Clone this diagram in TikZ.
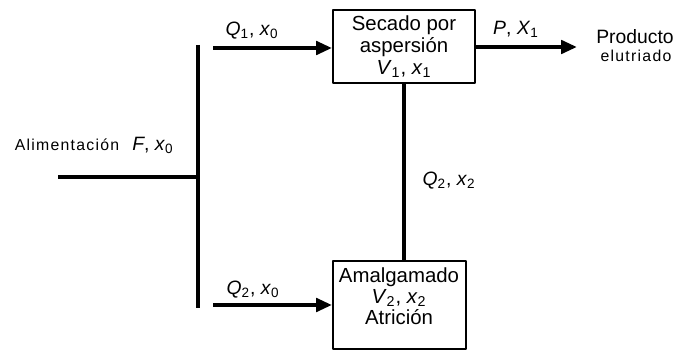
\documentclass[tikz,border=0pt]{standalone}
\usepackage{fontspec}
\setmainfont{Liberation Sans}
\usetikzlibrary{arrows.meta}
\newcommand{\vsub}[2]{\textit{#1}\textsubscript{#2}}

\begin{document}
\begin{tikzpicture}[x=0.02cm, y=-0.02cm, font=\fontsize{11}{12.5}\selectfont, line join=round, >={Triangle[length=9pt, width=7.5pt]},
		box/.style={draw, line width=1.1pt, align=center, inner sep=0pt, font=\fontsize{11.6}{12.5}\selectfont},
		flow/.style={line width=2.3pt},
		thin flow/.style={line width=2pt},
		spaced/.style={font=\fontsize{9}{11}\selectfont\addfontfeature{LetterSpace=8}}]
	\useasboundingbox (0,0) rectangle (677,351);
	\def \xbus{198}
	\def \ytop{48}
	\def \ybot{305}
	% equipos
	\node[box, minimum width=2.84cm, minimum height=1.46cm] (secado) at (404,46.5) {Secado por\\aspersión\\\vsub{V}{1}, \vsub{x}{1}};
	\node[box, minimum width=2.66cm, minimum height=1.76cm] (amalg) at (399.5,305) {};
	\node[align=center, font=\fontsize{11.6}{11.8}\selectfont] (amalgtxt) at (399,296) {Amalgamado\\\vsub{V}{2}, \vsub{x}{2}\\Atrición};
	% puntos de la red
	\coordinate (bustop) at (\xbus,45);
	\coordinate (busbot) at (\xbus,308);
	\coordinate (feed) at (58,177);
	\coordinate (q1) at (213,\ytop);
	\coordinate (q2) at (213,\ybot);
	\coordinate (prod) at (577,47);
	% lineas
	\draw[flow] (bustop) -- (busbot);
	\draw[flow] (feed) -- (feed -| bustop);
	\draw[flow, ->] (q1) -- (q1 -| secado.west);
	\draw[flow, ->] (q2) -- (q2 -| amalg.west);
	\draw[flow, ->] (secado.east |- prod) -- (prod);
	\draw[thin flow] (secado.south) -- (secado.south |- amalg.north);
	% textos
	\node[spaced] (alim) at (67,145) {Alimentación};
	\node (falim) at (153,145) {\textit{F}, \vsub{x}{0}};
	\node (q1lab) at (252,31) {\vsub{Q}{1}, \vsub{x}{0}};
	\node (q2lab) at (253,290) {\vsub{Q}{2}, \vsub{x}{0}};
	\node (q2xlab) at (449,181) {\vsub{Q}{2}, \vsub{x}{2}};
	\node (plab) at (516,29) {\textit{P}, \vsub{X}{1}};
	\node (prodlab) at (635,37) {Producto};
	\node[spaced] (elut) at (636,56) {elutriado};
\end{tikzpicture}
\end{document}
